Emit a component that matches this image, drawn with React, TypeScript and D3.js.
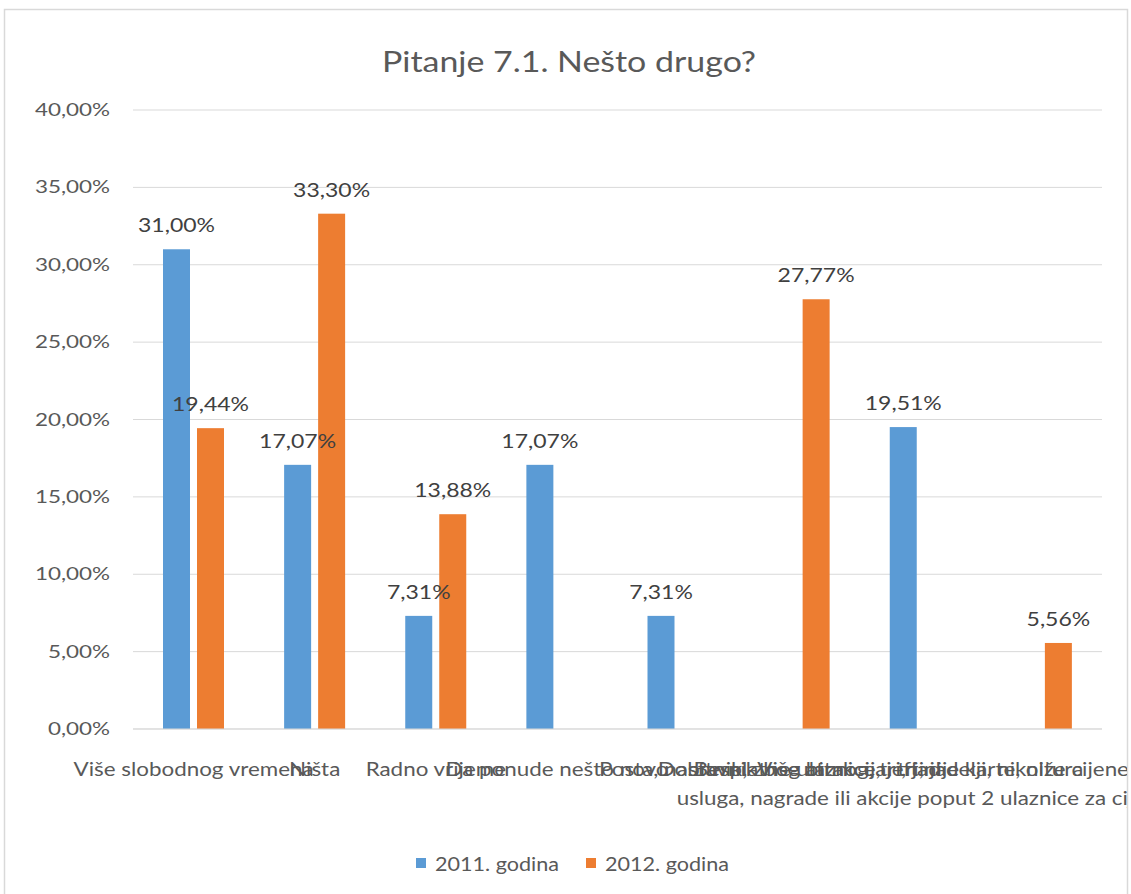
import React from "react";
import * as d3 from "d3";

const categories: string[][] = [
  ["Više slobodnog vremena"],
  ["Ništa"],
  ["Radno vrijeme"],
  ["Da ponude nešto novo"],
  ["Posta, nastavnik"],
  ["Dobitnik, zbog bitnog, tri, jad"],
  ["Više atrakcija, tri, jadelji, nikoltura"],
  [
    "Besplatne ulaznice, jeftinije karte, niže cijene kulturnih sadržaja i ostalih",
    "usluga, nagrade ili akcije poput 2 ulaznice za cijenu jedne, popusti za mlade",
  ],
];
const seriesNames = ["2011. godina", "2012. godina"];
const values2011: (number | null)[] = [31.0, 17.07, 7.31, 17.07, 7.31, null, 19.51, null];
const values2012: (number | null)[] = [19.44, 33.3, 13.88, null, null, 27.77, null, 5.56];
const yTicks = [0, 5, 10, 15, 20, 25, 30, 35, 40];
const colors = ["#5B9BD5", "#ED7D31"];

const W = 1131;
const H = 894;
const FONT = "Lato, 'Open Sans', sans-serif";

const fmt = (v: number) => v.toFixed(2).replace(".", ",") + "%";

type TProps = {
  x: number;
  y: number;
  size: number;
  sx: number;
  anchor?: "start" | "middle" | "end";
  fill?: string;
  children: React.ReactNode;
};

function T({ x, y, size, sx, anchor = "start", fill = "#595959", children }: TProps) {
  return (
    <text
      transform={`translate(${x},${y}) scale(${sx},1)`}
      textAnchor={anchor}
      fontSize={size}
      fill={fill}
    >
      {children}
    </text>
  );
}

export default function App() {
  const catKeys = categories.map((_, i) => String(i));
  const x0 = d3.scaleBand<string>().domain(catKeys).range([133, 1102]).padding(0);
  const x1 = d3
    .scaleBand<string>()
    .domain(seriesNames)
    .range([30, 91])
    .paddingInner(0.206)
    .paddingOuter(0);
  const y = d3.scaleLinear().domain([0, 40]).range([729, 110]);
  const series = [values2011, values2012];

  return (
    <svg
      width={W}
      height={H}
      style={{ position: "absolute", left: 0, top: 0, background: "#fff" }}
      fontFamily={FONT}
    >
      <defs>
        <clipPath id="chartClip">
          <rect x={5} y={10} width={1122} height={890} />
        </clipPath>
      </defs>
      <rect x={0} y={0} width={W} height={H} fill="#fff" />
      <rect x={4.5} y={9.5} width={1123} height={900} fill="#fff" stroke="#d9d9d9" strokeWidth={1.5} />

      <T x={569} y={72} size={29} sx={1.17} anchor="middle">
        Pitanje 7.1. Nešto drugo?
      </T>

      {yTicks.map((t) => (
        <g key={t}>
          <line x1={133} x2={1102} y1={y(t)} y2={y(t)} stroke="#d9d9d9" strokeWidth={1} />
          <T x={110} y={y(t) + 6} size={17} sx={1.32} anchor="end">
            {fmt(t)}
          </T>
        </g>
      ))}

      {series.map((vals, si) =>
        vals.map((v, ci) =>
          v === null ? null : (
            <rect
              key={`b${si}-${ci}`}
              x={(x0(String(ci)) as number) + (x1(seriesNames[si]) as number)}
              y={y(v)}
              width={x1.bandwidth()}
              height={y(0) - y(v)}
              fill={colors[si]}
            />
          )
        )
      )}

      <line x1={133} x2={1102} y1={y(0)} y2={y(0)} stroke="#d9d9d9" strokeWidth={1} />

      {series.map((vals, si) =>
        vals.map((v, ci) =>
          v === null ? null : (
            <T
              key={`l${si}-${ci}`}
              x={(x0(String(ci)) as number) + (x1(seriesNames[si]) as number) + x1.bandwidth() / 2}
              y={y(v) - 17}
              size={20}
              sx={1.15}
              anchor="middle"
              fill="#404040"
            >
              {fmt(v)}
            </T>
          )
        )
      )}

      <g clipPath="url(#chartClip)">
        {categories.map((lines, ci) =>
          lines.map((ln, li) => (
            <T
              key={`c${ci}-${li}`}
              x={(x0(String(ci)) as number) + x0.bandwidth() / 2}
              y={776 + li * 29}
              size={20}
              sx={1.12}
              anchor="middle"
            >
              {ln}
            </T>
          ))
        )}
      </g>

      {seriesNames.map((s, i) => {
        const lx = i === 0 ? 416 : 586;
        return (
          <g key={s}>
            <rect x={lx} y={858} width={10} height={10} fill={colors[i]} />
            <T x={lx + 19} y={871} size={20} sx={1.08}>
              {s}
            </T>
          </g>
        );
      })}
    </svg>
  );
}
